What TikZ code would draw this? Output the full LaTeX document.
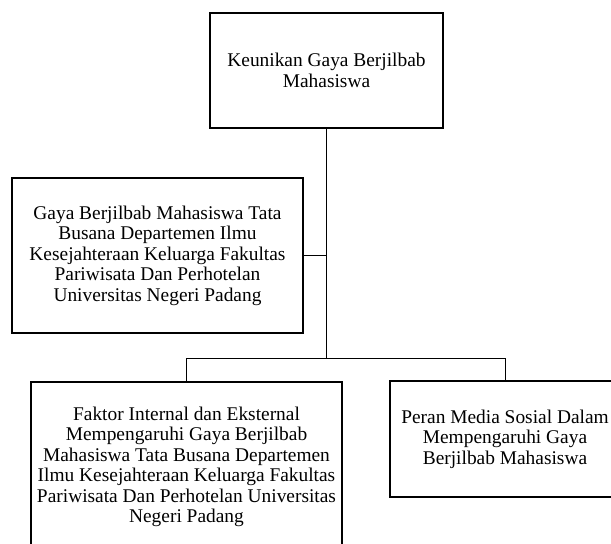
\documentclass[tikz,border=0pt]{standalone}
\usepackage{fontspec}
\setmainfont{Liberation Serif}
\newfontfamily\tnr{Liberation Serif}
\usepackage{tikz}
\usetikzlibrary{positioning}

\begin{document}
\begin{tikzpicture}[x=1pt, y=-1pt,
                blok/.style={draw, line width=1.4pt, align=center, inner sep=0pt,
                        font=\tnr\fontsize{19.4}{20.5}\selectfont},
                garis/.style={line width=0.8pt}]
                % frame of the picture
                \useasboundingbox (0,0) rectangle (611,544);
                \clip (0,0) rectangle (611,544);

                % Boxes
                \node[blok, minimum width=233pt, minimum height=115pt] (keunikan) at (326.5,70.5)
                        {Keunikan Gaya Berjilbab\\[1pt]Mahasiswa};
                \node[blok, minimum width=291pt, minimum height=155pt] (gaya) at (157.5,255.5)
                        {Gaya Berjilbab Mahasiswa Tata\\Busana Departemen Ilmu\\Kesejahteraan Keluarga Fakultas\\Pariwisata Dan Perhotelan\\Universitas Negeri Padang};
                \node[blok, minimum width=311pt, minimum height=170pt] (faktor) at (186.5,467)
                        {Faktor Internal dan Eksternal\\Mempengaruhi Gaya Berjilbab\\Mahasiswa Tata Busana Departemen\\Ilmu Kesejahteraan Keluarga Fakultas\\Pariwisata Dan Perhotelan Universitas\\Negeri Padang};
                \node[blok, minimum width=230pt, minimum height=116pt] (peran) at (505,439)
                        {Peran Media Sosial Dalam\\Mempengaruhi Gaya\\Berjilbab Mahasiswa};

                % Connectors
                \coordinate (cabang) at (326.5,358);
                \draw[garis] (keunikan.south) -- (cabang);
                \draw[garis] (gaya.east) -- (gaya.east -| keunikan.south);
                \draw[garis] (cabang) -| (faktor.north);
                \draw[garis] (cabang) -| (peran.north);
\end{tikzpicture}
\end{document}
